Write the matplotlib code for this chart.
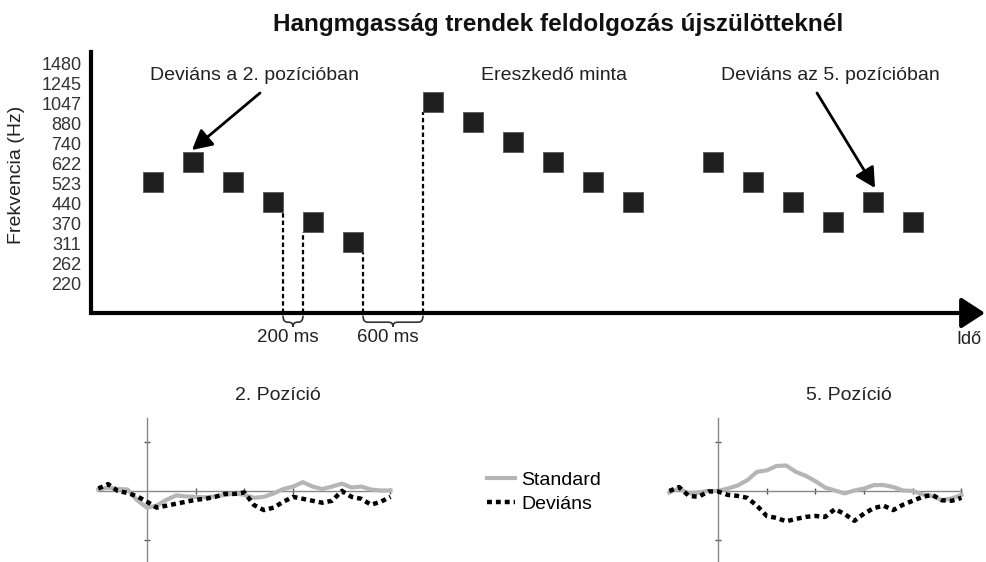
import numpy as np
import matplotlib.pyplot as plt
from matplotlib.path import Path
from matplotlib.patches import PathPatch
from matplotlib.transforms import ScaledTranslation

plt.rcParams['font.family'] = ['Liberation Sans', 'DejaVu Sans']

# frequency axis labels (Hz), one row per category
freq_labels = ["220", "262", "311", "370", "440", "523", "622", "740", "880", "1047", "1245", "1480"]

# tone onsets (ms) and pitch (index into freq_labels)
tone_onsets = [520, 920, 1320, 1720, 2120, 2520,
               3320, 3720, 4120, 4520, 4920, 5320,
               6120, 6520, 6920, 7320, 7720, 8120]
tone_pitch = [5, 6, 5, 4, 3, 2,
              9, 8, 7, 6, 5, 4,
              6, 5, 4, 3, 4, 3]
tone_dur = 200

# ERP time samples (ms)
erp_t = [-100, -80, -60, -40, -20, 0, 20, 40, 60, 80, 100, 120, 140, 160, 180, 200,
         220, 240, 260, 280, 300, 320, 340, 360, 380, 400, 420, 440, 460, 480, 500]

# 2. position
pos2_std = [0.03, 0.07, 0.04, 0.03, -0.19, -0.34, -0.30, -0.18, -0.09, -0.11, -0.12, -0.13,
            -0.11, -0.08, -0.05, -0.08, -0.14, -0.12, -0.05, 0.04, 0.09, 0.18, 0.09, 0.04,
            0.09, 0.15, 0.07, 0.09, 0.03, 0.01, 0.01]
pos2_dev = [0.05, 0.14, 0.00, -0.04, -0.11, -0.22, -0.34, -0.30, -0.26, -0.22, -0.18, -0.16,
            -0.12, -0.06, -0.06, -0.03, -0.29, -0.39, -0.34, -0.22, -0.12, -0.16, -0.20, -0.24,
            -0.20, 0.00, -0.12, -0.16, -0.28, -0.22, -0.12]

# 5. position
pos5_std = [-0.03, 0.05, -0.05, -0.03, 0.00, 0.00, 0.05, 0.11, 0.22, 0.39, 0.42, 0.51,
            0.52, 0.39, 0.31, 0.20, 0.07, 0.01, -0.05, 0.01, 0.05, 0.12, 0.12, 0.08,
            0.01, 0.00, -0.07, -0.10, -0.19, -0.15, -0.08]
pos5_dev = [0.00, 0.08, -0.10, -0.12, -0.01, -0.01, -0.08, -0.10, -0.14, -0.30, -0.51, -0.55,
            -0.62, -0.57, -0.53, -0.51, -0.53, -0.37, -0.47, -0.61, -0.46, -0.35, -0.30, -0.39,
            -0.28, -0.20, -0.12, -0.08, -0.19, -0.20, -0.14]

W, H = 987, 562
fig = plt.figure(figsize=(W / 100, H / 100), dpi=100)


def px_rect(x0, y0, x1, y1):
    # pixel box -> figure coords
    return [x0 / W, 1 - y1 / H, (x1 - x0) / W, (y1 - y0) / H]


txt_col = "#222222"
fs = 14

# ---------------- top panel ----------------
ax = fig.add_axes(px_rect(91, 42, 987, 350))
ax.set_xlim(0, 8960)
ax.set_ylim(-3.4, 12)
y_axis = -1.55

for s in ["top", "right", "bottom"]:
    ax.spines[s].set_visible(False)
ax.spines["left"].set_linewidth(3)
ax.spines["left"].set_bounds(y_axis, 11.5)
ax.set_xticks([])
ax.set_yticks(range(len(freq_labels)), freq_labels)
ax.tick_params(axis="y", length=0, pad=7, labelsize=13, labelcolor="#333333")
# labels sit a touch below the tone rows in the original
shift = ScaledTranslation(0, -2 / 100, fig.dpi_scale_trans)
for lab in ax.get_yticklabels():
    lab.set_transform(lab.get_transform() + shift)

# time axis arrow
ax.annotate("", xy=(8940, y_axis), xytext=(0, y_axis),
            arrowprops=dict(arrowstyle="-|>,head_length=0.4,head_width=0.26",
                            lw=3, color="black", mutation_scale=36,
                            shrinkA=0, shrinkB=0))

# tones
ax.bar(tone_onsets, 1.0, width=tone_dur, bottom=np.array(tone_pitch) - 0.5,
       align="edge", color="#1e1e1e", edgecolor="#555555", linewidth=0.6, zorder=3)

# dotted drop lines marking the ISIs
drops = [(3, "right"), (4, "left"), (5, "right"), (6, "left")]
for k, side in drops:
    xx = tone_onsets[k] + (tone_dur if side == "right" else 0)
    ax.vlines(xx, y_axis, tone_pitch[k] - 0.5, colors="black",
              linestyles=(0, (2, 1.3)), linewidth=1.6, zorder=2)


def brace(ax, x1, x2, yt, h, r):
    xm = (x1 + x2) / 2
    ym = yt - h * 0.6
    verts = [(x1, yt), (x1, ym), (x1 + r, ym),
             (xm - r, ym), (xm, ym), (xm, yt - h),
             (xm, ym), (xm + r, ym),
             (x2 - r, ym), (x2, ym), (x2, yt)]
    codes = [Path.MOVETO, Path.CURVE3, Path.CURVE3,
             Path.LINETO, Path.CURVE3, Path.CURVE3,
             Path.CURVE3, Path.CURVE3,
             Path.LINETO, Path.CURVE3, Path.CURVE3]
    ax.add_patch(PathPatch(Path(verts, codes), fill=False, lw=1.2, edgecolor="#333333"))


isi_labels = ["200 ms", "600 ms"]
isi_spans = [(tone_onsets[3] + tone_dur, tone_onsets[4]),
             (tone_onsets[5] + tone_dur, tone_onsets[6])]
for lab, (a, b) in zip(isi_labels, isi_spans):
    brace(ax, a, b, -1.68, 0.55, 45)
    ax.text((a + b) / 2 - 50, -2.75, lab, ha="center", va="center",
            fontsize=13.5, color=txt_col)

ax.text(8780, -2.9, "Idő", ha="center", va="center", fontsize=13, color=txt_col)

# annotations
arrow_kw = dict(arrowstyle="-|>,head_length=0.6,head_width=0.32", lw=2,
                color="black", mutation_scale=20, shrinkA=0, shrinkB=0)
ax.text(1640, 10.35, "Deviáns a 2. pozícióban", ha="center", va="center",
        fontsize=fs, color=txt_col)
ax.annotate("", xy=(1010, 6.6), xytext=(1690, 9.45), arrowprops=arrow_kw)
ax.text(4630, 10.35, "Ereszkedő minta", ha="center", va="center",
        fontsize=fs, color=txt_col)
ax.text(7390, 10.35, "Deviáns az 5. pozícióban", ha="center", va="center",
        fontsize=fs, color=txt_col)
ax.annotate("", xy=(7840, 4.7), xytext=(7260, 9.45), arrowprops=arrow_kw)

fig.text(558 / W, 1 - 25 / H, "Hangmgasság trendek feldolgozás újszülötteknél",
         ha="center", va="center", fontsize=17.5, fontweight="bold", color="#111111")
fig.text(17 / W, 1 - 175 / H, "Frekvencia (Hz)", rotation=90, ha="center",
         va="center", fontsize=fs, color=txt_col)

# ---------------- ERP panels ----------------
std_col = "#b5b5b5"


def erp_panel(x_zero, std, dev, title):
    scale = 0.487  # px per ms
    a = fig.add_axes(px_rect(x_zero - 105 * scale, 417.5, x_zero + 505 * scale, 562))
    a.set_xlim(-105, 505)
    a.set_ylim(-1.45, 1.5)
    for s in ["top", "right"]:
        a.spines[s].set_visible(False)
    for s in ["left", "bottom"]:
        a.spines[s].set_position(("data", 0))
        a.spines[s].set_color("#888888")
        a.spines[s].set_linewidth(1)
    a.spines["bottom"].set_bounds(-100, 500)
    a.set_xticks([100, 200, 300, 400, 500])
    a.set_yticks([-1, 1])
    a.set_xticklabels([])
    a.set_yticklabels([])
    a.tick_params(direction="inout", length=5, width=1, color="#555555")
    a.patch.set_alpha(0)
    l1, = a.plot(erp_t, std, color=std_col, lw=3, solid_joinstyle="round",
                 label="Standard", zorder=3)
    l2, = a.plot(erp_t, dev, color="black", lw=3.2, linestyle=(0, (1.1, 0.9)),
                 label="Deviáns", zorder=4)
    fig.text((x_zero + 131) / W, 1 - 396 / H, title, ha="center", va="center",
             fontsize=fs, color=txt_col)
    return l1, l2


h1, h2 = erp_panel(147, pos2_std, pos2_dev, "2. Pozíció")
erp_panel(718, pos5_std, pos5_dev, "5. Pozíció")

fig.legend([h1, h2], ["Standard", "Deviáns"], loc="center left",
           bbox_to_anchor=(487 / W, 1 - 492 / H), frameon=False,
           borderpad=0, borderaxespad=0, handlelength=1.45, handletextpad=0.3,
           labelspacing=0.32, fontsize=fs)

fig.savefig("out.png", dpi=100)
